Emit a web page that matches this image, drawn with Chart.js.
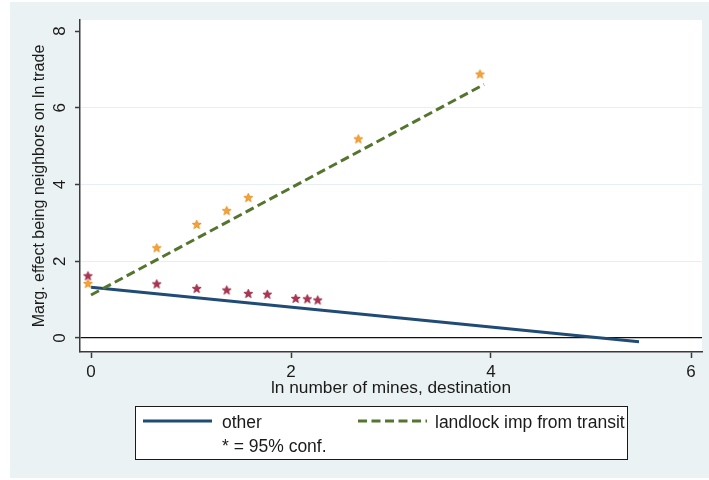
<!DOCTYPE html>
<html>
<head>
<meta charset="utf-8">
<script src="https://cdn.jsdelivr.net/npm/chart.js@4/dist/chart.umd.min.js"></script>
<style>
  html, body { margin: 0; padding: 0; background: #ffffff; }
  #wrap { width: 709px; height: 480px; }
</style>
</head>
<body>
<div id="wrap"><canvas id="chart" width="709" height="480"></canvas></div>
<script>
// Fitted marginal effects (end points of each fitted line)
const otherX = [0, 5.48];
const otherY = [1.32, -0.10];
const landlockX = [0, 3.93];
const landlockY = [1.12, 6.61];

// Estimates significant at the 95% level
const sigOtherX = [-0.03, 0.657, 1.057, 1.357, 1.573, 1.763, 2.047, 2.163, 2.267];
const sigOtherY = [1.62, 1.41, 1.29, 1.25, 1.16, 1.14, 1.03, 1.02, 0.99];
const sigLandlockX = [-0.03, 0.657, 1.057, 1.357, 1.573, 2.673, 3.89];
const sigLandlockY = [1.42, 2.35, 2.96, 3.32, 3.66, 5.19, 6.88];

// Axis ticks and texts
const xTicks = [0, 2, 4, 6];
const yTicks = [0, 2, 4, 6, 8];
const xTitle = 'ln number of mines, destination';
const yTitle = 'Marg. effect being neighbors on ln trade';
const seriesLabels = ['other', 'landlock imp from transit'];
const noteLabel = '* = 95% conf.';

const FONT = '"Liberation Sans", Arial, Helvetica, sans-serif';
const NAVY = '#1f4b75';
const GREEN = '#55752f';
const BG = '#eaf2f3';

function pts(xs, ys) { return xs.map((x, i) => ({ x: x, y: ys[i] })); }

function starMarker(fill, stroke) {
  const c = document.createElement('canvas');
  c.width = 11; c.height = 11;
  const g = c.getContext('2d');
  g.beginPath();
  for (let i = 0; i < 10; i++) {
    const r = i % 2 === 0 ? 4.7 : 2.0;
    const a = -Math.PI / 2 + i * Math.PI / 5;
    const px = 5.5 + r * Math.cos(a), py = 5.8 + r * Math.sin(a);
    if (i === 0) g.moveTo(px, py); else g.lineTo(px, py);
  }
  g.closePath();
  g.fillStyle = fill; g.fill();
  g.lineWidth = 0.8; g.strokeStyle = stroke; g.stroke();
  return c;
}

const frame = {
  id: 'frame',
  beforeDraw(chart) {
    const ctx = chart.ctx, a = chart.chartArea;
    ctx.save();
    ctx.fillStyle = '#ffffff';
    ctx.fillRect(0, 0, chart.width, chart.height);
    ctx.fillStyle = BG;
    ctx.fillRect(10, 2, chart.width - 10, 476);
    ctx.fillStyle = '#ffffff';
    ctx.fillRect(a.left, a.top, a.right - a.left, a.bottom - a.top);
    ctx.restore();
  },
  afterDraw(chart) {
    const ctx = chart.ctx, a = chart.chartArea, ys = chart.scales.y;
    ctx.save();
    ctx.fillStyle = '#1a1a1a';
    // rotated y tick labels
    ctx.font = '17px ' + FONT;
    ctx.textAlign = 'center';
    ctx.textBaseline = 'alphabetic';
    yTicks.forEach(v => {
      const py = ys.getPixelForValue(v);
      ctx.save();
      ctx.translate(65, py);
      ctx.rotate(-Math.PI / 2);
      ctx.fillText(String(v), 0, 0);
      ctx.restore();
    });
    // y title
    ctx.font = '16px ' + FONT;
    ctx.save();
    ctx.translate(44, (a.top + a.bottom) / 2);
    ctx.rotate(-Math.PI / 2);
    ctx.fillText(yTitle, 0, 0);
    ctx.restore();
    // x title
    ctx.font = '17.3px ' + FONT;
    ctx.fillText(xTitle, (a.left + a.right) / 2, 392.5);

    // legend
    ctx.fillStyle = '#ffffff';
    ctx.fillRect(135.5, 406.5, 492, 53);
    ctx.lineWidth = 1;
    ctx.strokeStyle = '#1a1a1a';
    ctx.strokeRect(135.5, 406.5, 492, 53);
    const ds = chart.data.datasets;
    ctx.lineCap = 'butt';
    ctx.beginPath();
    ctx.strokeStyle = ds[0].borderColor; ctx.lineWidth = 3;
    ctx.moveTo(143, 421); ctx.lineTo(212, 421); ctx.stroke();
    ctx.beginPath();
    ctx.setLineDash(ds[1].borderDash);
    ctx.strokeStyle = ds[1].borderColor;
    ctx.moveTo(358, 421); ctx.lineTo(427, 421); ctx.stroke();
    ctx.setLineDash([]);
    ctx.fillStyle = '#1a1a1a';
    ctx.textAlign = 'left';
    ctx.font = '17.5px ' + FONT;
    ctx.fillText(ds[0].label, 222, 428);
    ctx.fillText(ds[1].label, 435, 428);
    ctx.fillText(noteLabel, 222, 452);
    ctx.restore();
  }
};

new Chart(document.getElementById('chart'), {
  type: 'scatter',
  data: {
    datasets: [
      {
        label: seriesLabels[0],
        data: pts(otherX, otherY),
        showLine: true, borderColor: NAVY, borderWidth: 3,
        pointRadius: 0, fill: false, order: 3
      },
      {
        label: seriesLabels[1],
        data: pts(landlockX, landlockY),
        showLine: true, borderColor: GREEN, borderWidth: 3,
        borderDash: [9, 4.5], borderCapStyle: 'butt',
        pointRadius: 0, fill: false, order: 2
      },
      {
        label: 'sig other',
        data: pts(sigOtherX, sigOtherY),
        pointStyle: starMarker('#b4304f', '#8c2340'),
        pointRadius: 5, order: 1
      },
      {
        label: 'sig landlock',
        data: pts(sigLandlockX, sigLandlockY),
        pointStyle: starMarker('#f3a43c', '#e2870e'),
        pointRadius: 5, order: 0
      }
    ]
  },
  options: {
    responsive: false,
    animation: false,
    devicePixelRatio: 1,
    layout: { padding: { top: 20, right: 7, left: 0, bottom: 0 } },
    plugins: { legend: { display: false }, tooltip: { enabled: false } },
    scales: {
      x: {
        type: 'linear', min: -0.11, max: 6.11,
        afterBuildTicks: s => { s.ticks = xTicks.map(v => ({ value: v })); },
        afterFit: s => { s.height = 128; },
        border: { color: '#3a3a3a', width: 1.5 },
        grid: { drawOnChartArea: false, tickLength: 6, tickColor: '#3a3a3a', tickWidth: 1.5 },
        ticks: { color: '#1a1a1a', font: { family: FONT, size: 17 }, padding: 4, maxRotation: 0 }
      },
      y: {
        type: 'linear', min: -0.365, max: 8.29,
        afterBuildTicks: s => { s.ticks = yTicks.map(v => ({ value: v })); },
        afterFit: s => { s.width = 80; },
        border: { color: '#3a3a3a', width: 1.5 },
        grid: {
          color: c => c.tick && c.tick.value === 0 ? '#111111' : (c.tick && c.tick.value === 8 ? 'rgba(0,0,0,0)' : '#e6eff1'),
          lineWidth: c => c.tick && c.tick.value === 0 ? 1.2 : 1,
          tickLength: 5, tickColor: '#3a3a3a', tickWidth: 1.5
        },
        ticks: { display: false }
      }
    }
  },
  plugins: [frame]
});
</script>
</body>
</html>
